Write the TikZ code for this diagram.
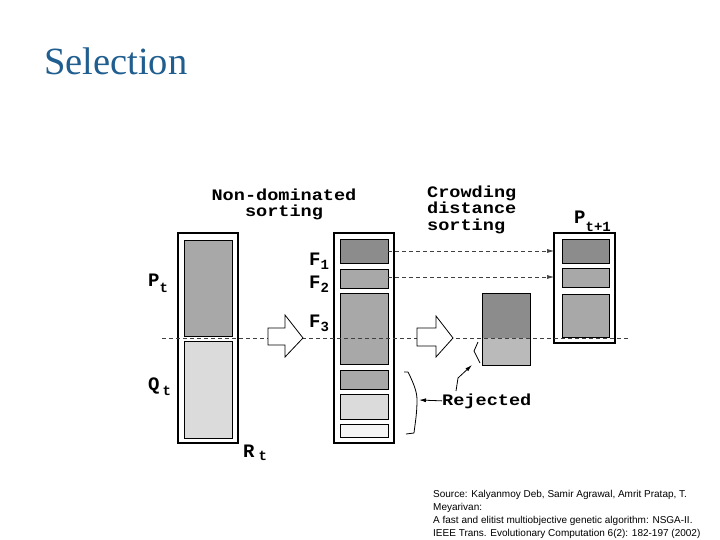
\documentclass[tikz,border=0pt]{standalone}
\usepackage{fontspec}
\setmainfont{Liberation Serif}
\newfontfamily\courfont{Liberation Mono}
\newfontfamily\courhdr[FakeStretch=1.16]{Liberation Mono}
\newfontfamily\arialfont{Liberation Sans}
\usetikzlibrary{arrows.meta}
\definecolor{titleblue}{RGB}{31,94,143}
\definecolor{gdark}{gray}{0.55}
\definecolor{gmid}{gray}{0.66}
\definecolor{glight}{gray}{0.86}
\definecolor{gwhite}{gray}{0.96}
\newcommand\lsub[2][6pt]{\raisebox{-#1}{\fontsize{14}{14}\selectfont #2}}
\begin{document}
\begin{tikzpicture}[x=1pt,y=-1pt,
  box/.style={draw=black, line width=1.2pt, inner sep=0pt, outer sep=0pt, anchor=north west, fill=white},
  part/.style={draw=black, line width=0.8pt, inner sep=0pt, outer sep=0pt, anchor=north west},
  lbl/.style={font=\courfont\bfseries\fontsize{19}{19}\selectfont, inner sep=0pt, anchor=base west},
  hdr/.style={font=\courhdr\bfseries\fontsize{16}{15}\selectfont, inner sep=0pt},
  src/.style={font=\arialfont\fontsize{10}{11}\selectfont, inner sep=0pt, anchor=base west},
  dashln/.style={black!75, line width=0.6pt, dash pattern=on 4pt off 3pt},
  dasharr/.style={dashln, -{Latex[length=7pt,width=4pt]}},
  solidarr/.style={black, line width=0.8pt, -{Latex[length=7pt,width=4pt]}},
  blockarr/.style={draw=black, line width=0.8pt, fill=white, line join=miter}
]
\useasboundingbox (0,0) rectangle (720,540);
\fill[white] (0,0) rectangle (720,540);

% title
\node[font=\fontsize{38.5}{38.5}\selectfont, text=titleblue, inner sep=0pt, anchor=base west] (title) at (44,75) {Selection};

% headers
\node[hdr, anchor=base] (nd1) at (284,201) {Non-dominated};
\node[hdr, anchor=base] (nd2) at (284,216) {sorting};
\node[hdr, anchor=base west] (cd1) at (427,198) {Crowding};
\node[hdr, anchor=base west] (cd2) at (427,214) {distance};
\node[hdr, anchor=base west] (cd3) at (427,230) {sorting};

% left box R_t
\node[box, minimum width=60pt, minimum height=210pt] (rt) at (178,233) {};
\node[part, fill=gmid, minimum width=48pt, minimum height=96pt] (ptr) at (184,240) {};
\node[part, fill=glight, minimum width=48pt, minimum height=97pt] (qtr) at (184,341) {};

% middle box
\node[box, minimum width=60pt, minimum height=210pt] (mid) at (334,233) {};
\node[part, fill=gdark, minimum width=48pt, minimum height=24pt] (f1) at (340,239) {};
\node[part, fill=gmid, minimum width=48pt, minimum height=19pt] (f2) at (340,269) {};
\node[part, fill=gmid, minimum width=48pt, minimum height=71pt] (f3) at (340,293) {};
\node[part, fill=gmid, minimum width=48pt, minimum height=19pt] (g4) at (340,370) {};
\node[part, fill=glight, minimum width=48pt, minimum height=25pt] (g5) at (340,394) {};
\node[part, fill=gwhite, minimum width=48pt, minimum height=13pt] (g6) at (340,424) {};

% sorted F3
\node[part, fill=gdark, minimum width=48pt, minimum height=72pt] (srt) at (482,293) {};
\fill[gmid!80] ([xshift=0.4pt]srt.west |- 0,338) rectangle ([xshift=-0.4pt,yshift=0.4pt]srt.south east);
\draw[line width=0.8pt] (srt.north west) rectangle (srt.south east);

% right box P_{t+1}
\node[box, minimum width=61pt, minimum height=110pt] (rbox) at (554,233) {};
\node[part, fill=gdark, minimum width=47pt, minimum height=24pt] (r1) at (562,239) {};
\node[part, fill=gmid, minimum width=47pt, minimum height=19pt] (r2) at (562,268) {};
\node[part, fill=gmid, minimum width=47pt, minimum height=43pt] (r3) at (562,294) {};

% labels
\node[lbl] (lpt) at (148,286) {P\lsub{t}};
\node[lbl] (lqt) at (148,390) {Q\kern3pt\lsub[5pt]{t}};
\node[lbl] (lrt) at (243,457) {R\kern4pt\lsub[3pt]{t}};
\node[lbl] (lf1) at (309,265) {F\lsub[4pt]{1}};
\node[lbl] (lf2) at (309,288) {F\lsub[4pt]{2}};
\node[lbl] (lf3) at (309,327) {F\lsub[4pt]{3}};
\node[lbl] (lp1) at (574,223) {P\lsub[8pt]{t+1}};

% main dashed line
\coordinate (dl) at (162,338);
\coordinate (dr) at (630,338);
\draw[dashln] (dl) -- (dr);

% dashed arrows
\draw[dasharr] (f1.east) -- (f1.east -| rbox.west);
\draw[dasharr] ([yshift=1.5pt]f2.east) -- ([yshift=1.5pt]f2.east -| rbox.west);

% block arrows
\draw[blockarr] (268,328) -- (285,328) -- (285,315) -- (303,338) -- (285,357) -- (285,345) -- (268,345) -- cycle;
\draw[blockarr] (417,328) -- (436,328) -- (436,316) -- (453,338) -- (436,357) -- (436,346) -- (417,346) -- cycle;

% brace
\draw[line width=0.8pt, line join=round] (404,372) -- (408,372) .. controls (414,384) and (417,392) .. (417,400) .. controls (417,414) and (415,424) .. (414,433) -- (406,434);
\coordinate (bt) at (419,400);

% small bracket on sorted F3
\draw[line width=0.8pt] (478,342) -- (474,351) -- (480,363);
\coordinate (bk) at (472,365);

% Rejected
\node[hdr, anchor=base west] (rej) at (442,405) {Rejected};
\draw[solidarr] (rej.west) -- (bt);
\coordinate (ru) at (456,391);
\coordinate (rm) at (458,378);
\draw[solidarr] (ru) -- (rm) -- (bk);

% source
\node[src] (s1) at (433,497) {Source: Kalyanmoy Deb, Samir Agrawal, Amrit Pratap, T.};
\node[src] (s2) at (433,510) {Meyarivan:};
\node[src] (s3) at (433,523) {A fast and elitist multiobjective genetic algorithm: NSGA-II.};
\node[src] (s4) at (433,536) {IEEE Trans. Evolutionary Computation 6(2): 182-197 (2002)};
\end{tikzpicture}
\end{document}
